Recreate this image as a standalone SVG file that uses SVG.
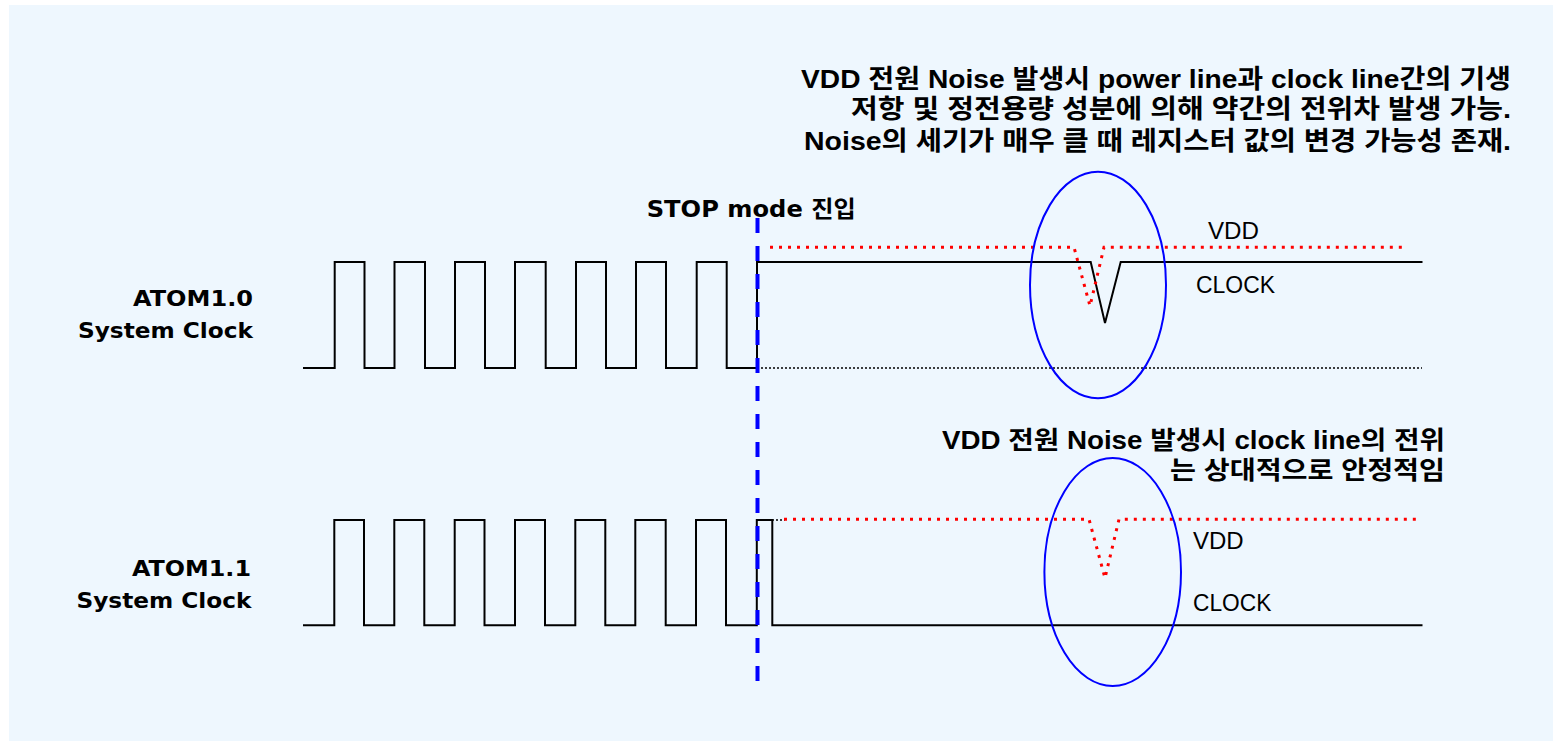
<svg xmlns="http://www.w3.org/2000/svg" width="1553" height="741" viewBox="0 0 1553 741">
  <style>
    .bg { fill: #EEF7FE; stroke: none; }
    .wave { fill: none; stroke: #000; stroke-width: 2; stroke-linejoin: miter; }
    .vdd { fill: none; stroke: #FF0000; stroke-width: 3; stroke-dasharray: 3 6; }
    .gnd { fill: none; stroke: #000; stroke-width: 1.5; stroke-dasharray: 2 2; }
    .stop { fill: none; stroke: #0000FF; stroke-width: 4; stroke-dasharray: 15 13; }
    .ring { fill: none; stroke: #0000FF; stroke-width: 2; }
    .lbl { font-family: "DejaVu Sans", "Noto Sans CJK KR", sans-serif; font-weight: bold; fill: #000; }
    .note { font-family: "Liberation Sans", "Noto Sans CJK KR", sans-serif; font-weight: bold; fill: #000; }
    .sig { font-family: "Liberation Sans", "Noto Sans CJK KR", sans-serif; font-weight: normal; fill: #000; font-size: 23px; }
  </style>
  <rect class="bg" x="9" y="5" width="1544" height="736"/>

  <g id="connectors">
    <!-- ATOM1.0 clock -->
    <path id="clk10" class="wave" d="M303,368 H334.7 V262 H364.5 V368 H394.5 V262 H425 V368 H455 V262 H485 V368 H515 V262 H545.7 V368 H576 V262 H606 V368 H636 V262 H666 V368 H696.7 V262 H726.7 V368 H757 V262 H1090.7 L1105,323 L1120.7,262 H1422.5"/>
    <path id="gnd10" class="gnd" d="M757,368 H1422"/>
    <path id="vdd10" class="vdd" d="M770,247.3 H1074 L1090,306 L1104,247.3 H1405"/>
    <!-- ATOM1.1 clock -->
    <path id="clk11" class="wave" d="M303,625.3 H334.3 V520 H364 V625.3 H394.3 V520 H424.3 V625.3 H454.7 V520 H484.5 V625.3 H515 V520 H545 V625.3 H575.3 V520 H605.3 V625.3 H635.3 V520 H665.7 V625.3 H696 V520 H726 V625.3 H756.8 V520 H772.3 V625.3 H1422.5"/>
    <path id="gnd11" class="gnd" d="M772,520 H785"/>
    <path id="vdd11" class="vdd" d="M784,519.3 H1089 L1105,578 L1119,519.3 H1421"/>
    <!-- STOP mode marker -->
    <path id="stopline" class="stop" d="M757.5,218 V683"/>
  </g>

  <g id="ring10"><ellipse class="ring" cx="1098" cy="285" rx="68" ry="113.3"/></g>
  <g id="ring11"><ellipse class="ring" cx="1112.7" cy="572" rx="68.3" ry="114"/></g>

  <g id="label-atom10">
    <text class="lbl" font-size="22" x="253" y="306" text-anchor="end" textLength="120" lengthAdjust="spacingAndGlyphs">ATOM1.0</text>
    <text class="lbl" font-size="22" x="253" y="338" text-anchor="end" textLength="175" lengthAdjust="spacingAndGlyphs">System Clock</text>
  </g>
  <g id="label-atom11">
    <text class="lbl" font-size="22" x="251" y="576" text-anchor="end" textLength="119" lengthAdjust="spacingAndGlyphs">ATOM1.1</text>
    <text class="lbl" font-size="22" x="251.5" y="608.3" text-anchor="end" textLength="175" lengthAdjust="spacingAndGlyphs">System Clock</text>
  </g>
  <g id="label-stop">
    <text class="lbl" font-size="23" x="646.7" y="216.7" textLength="209" lengthAdjust="spacingAndGlyphs">STOP mode 진입</text>
  </g>
  <g id="label-sig10">
    <text class="sig" x="1208" y="239" textLength="51" lengthAdjust="spacingAndGlyphs">VDD</text>
    <text class="sig" x="1196" y="292.7" textLength="79" lengthAdjust="spacingAndGlyphs">CLOCK</text>
  </g>
  <g id="label-sig11">
    <text class="sig" x="1193" y="549.3" textLength="50.7" lengthAdjust="spacingAndGlyphs">VDD</text>
    <text class="sig" x="1193" y="610.7" textLength="78.3" lengthAdjust="spacingAndGlyphs">CLOCK</text>
  </g>
  <g id="note-top">
    <text class="note" font-size="26" x="1511" y="88" text-anchor="end" textLength="710" lengthAdjust="spacingAndGlyphs">VDD 전원 Noise 발생시 power line과 clock line간의 기생</text>
    <text class="note" font-size="26" x="1511" y="118" text-anchor="end" textLength="660" lengthAdjust="spacingAndGlyphs">저항 및 정전용량 성분에 의해 약간의 전위차 발생 가능.</text>
    <text class="note" font-size="26" x="1511" y="150" text-anchor="end" textLength="707" lengthAdjust="spacingAndGlyphs">Noise의 세기가 매우 클 때 레지스터 값의 변경 가능성 존재.</text>
  </g>
  <g id="note-bottom">
    <text class="note" font-size="25" x="1445" y="449" text-anchor="end" textLength="503" lengthAdjust="spacingAndGlyphs">VDD 전원 Noise 발생시 clock line의 전위</text>
    <text class="note" font-size="25" x="1445" y="479" text-anchor="end" textLength="275" lengthAdjust="spacingAndGlyphs">는 상대적으로 안정적임</text>
  </g>
</svg>
